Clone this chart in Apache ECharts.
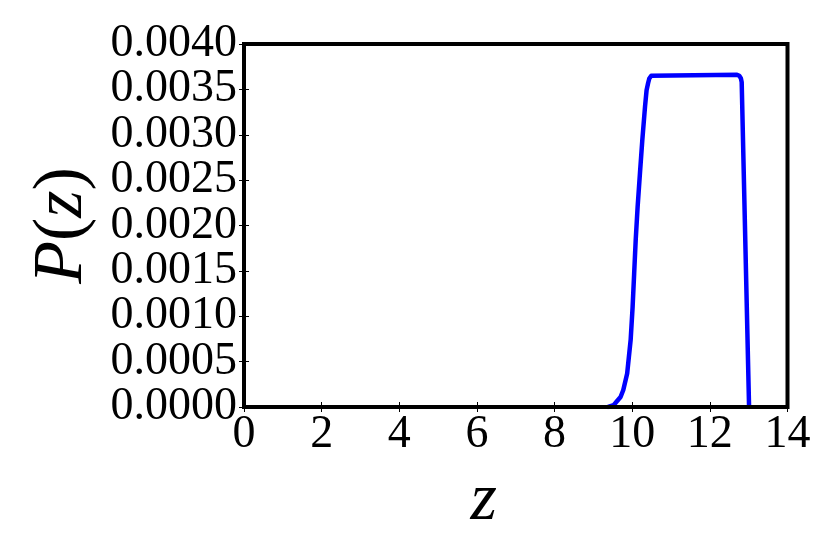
<!DOCTYPE html>
<html>
<head>
<meta charset="utf-8">
<script src="https://cdn.jsdelivr.net/npm/echarts@6/dist/echarts.min.js"></script>
<style>
html,body{margin:0;padding:0;background:#fff;}
#c{width:830px;height:554px;}
</style>
</head>
<body>
<div id="c"></div>
<script>
// Data
var zValues = [9.38, 9.43, 9.52, 9.60, 9.70, 9.77, 9.87, 9.96, 10.01, 10.05, 10.09, 10.14, 10.20, 10.26, 10.33, 10.37, 10.41, 10.44, 10.49, 10.54, 12.70, 12.76, 12.80, 12.82, 13.01];
var pValues = [0, 0.000003, 0.00002, 0.00006, 0.00011, 0.000187, 0.00037, 0.00074, 0.0011, 0.00147, 0.00184, 0.00221, 0.00258, 0.00294, 0.00331, 0.00349, 0.00357, 0.00362, 0.00365, 0.00366, 0.00366, 0.00365, 0.00362, 0.00358, 0];
var xTicks = [0, 2, 4, 6, 8, 10, 12, 14];
var yTicks = [0, 0.0005, 0.001, 0.0015, 0.002, 0.0025, 0.003, 0.0035, 0.004];
var yTickLabels = yTicks.map(function (v) { return v.toFixed(4); });

var seriesData = zValues.map(function (z, i) { return [z, pValues[i]]; });

var FONT = '"Liberation Serif", "DejaVu Serif", serif';
var chart = echarts.init(document.getElementById('c'));

function xAxisCfg(pos, showLabel) {
  return {
    type: 'value', position: pos, min: xTicks[0], max: xTicks[xTicks.length - 1], interval: 2,
    axisLine: { show: false },
    axisTick: { show: true, inside: true, length: 5, lineStyle: { color: '#000', width: 1 } },
    splitLine: { show: false },
    axisLabel: { show: showLabel, fontFamily: FONT, fontSize: 46, lineHeight: 40, color: '#000', margin: 8,
      showMinLabel: true, showMaxLabel: true, hideOverlap: false },
    name: showLabel ? 'z' : '',
    nameLocation: 'middle', nameGap: 60,
    nameTextStyle: { fontFamily: FONT, fontStyle: 'italic', fontSize: 68, color: '#000', padding: [0, 64, 0, 0] }
  };
}
function yAxisCfg(pos) {
  return {
    type: 'value', position: pos, min: yTicks[0], max: yTicks[yTicks.length - 1], interval: 0.0005,
    axisLine: { show: false },
    axisTick: { show: true, inside: true, length: 5, lineStyle: { color: '#000', width: 1 } },
    splitLine: { show: false },
    axisLabel: { show: false }
  };
}

chart.setOption({
  animation: false,
  backgroundColor: '#fff',
  grid: { left: 244, right: 42.5, top: 44, bottom: 147, show: true, borderColor: '#000', borderWidth: 4,
    backgroundColor: 'transparent', z: 10, containLabel: false, outerBoundsMode: 'none' },
  xAxis: [xAxisCfg('bottom', true), xAxisCfg('top', false)],
  yAxis: [
    yAxisCfg('left'),
    yAxisCfg('right'),
    {
      type: 'category', position: 'left', data: yTickLabels, boundaryGap: false,
      axisLine: { show: false }, axisTick: { show: false }, splitLine: { show: false },
      axisLabel: { show: true, interval: 0, fontFamily: FONT, fontSize: 46, lineHeight: 36, color: '#000', margin: 7,
        showMinLabel: true, showMaxLabel: true, hideOverlap: false },
      name: '{i|P}{u|(}{i|z}{u|)}',
      nameLocation: 'middle', nameGap: 146, nameRotate: 90,
      nameTextStyle: {
        fontFamily: FONT, fontSize: 70, color: '#000',
        rich: {
          i: { fontFamily: FONT, fontStyle: 'italic', fontSize: 70, color: '#000' },
          u: { fontFamily: FONT, fontSize: 70, color: '#000' }
        }
      }
    }
  ],
  series: [{
    type: 'line', data: seriesData, xAxisIndex: 0, yAxisIndex: 0,
    showSymbol: false, symbol: 'none', smooth: false,
    lineStyle: { color: '#0000ff', width: 4.5, join: 'round', cap: 'round' },
    z: 2
  }]
});
</script>
</body>
</html>
